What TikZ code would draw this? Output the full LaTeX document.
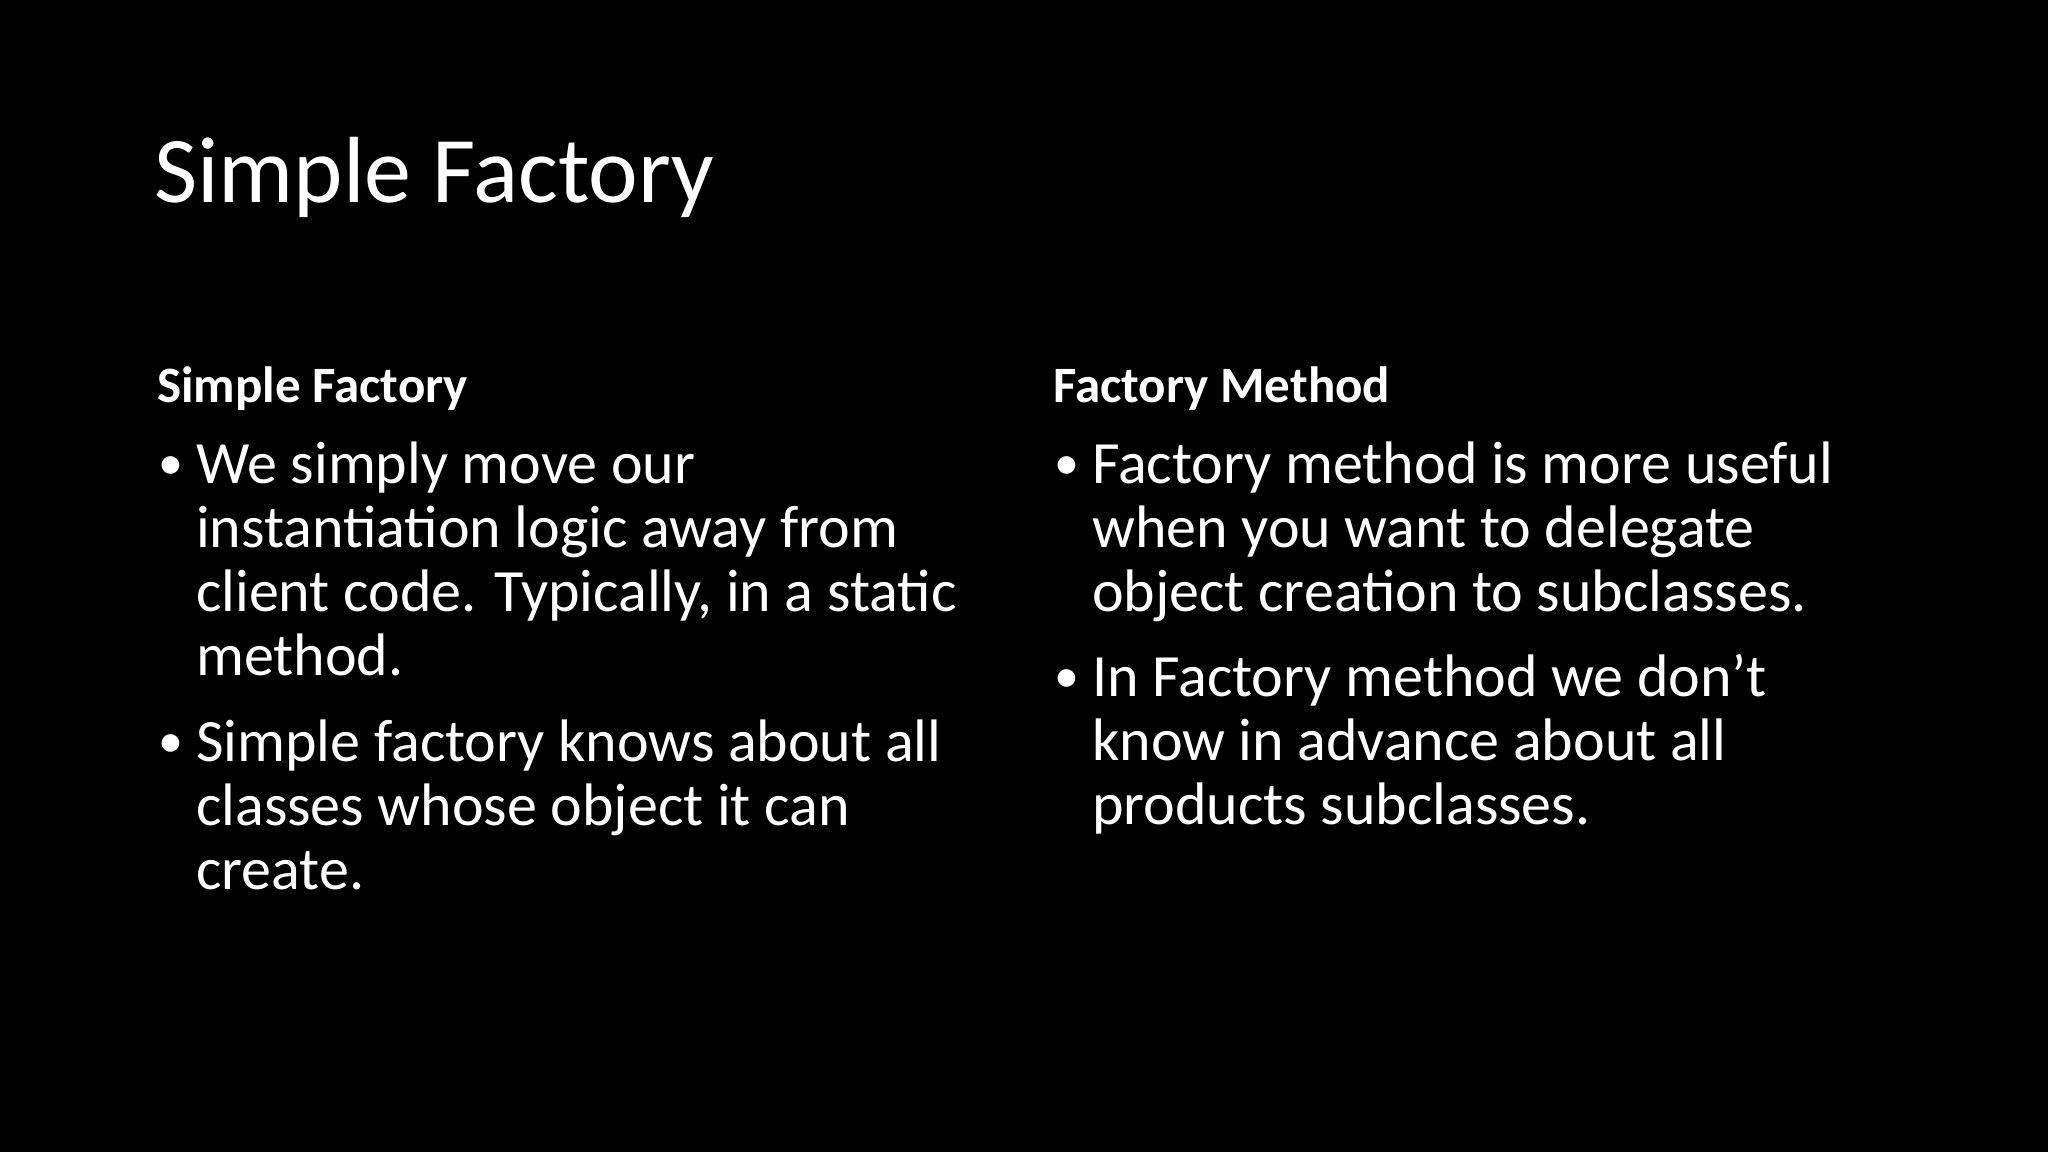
\documentclass[tikz,border=0pt]{standalone}
\usepackage{fontspec}
\setmainfont{Carlito}
\begin{document}
\begin{tikzpicture}[x=1pt,y=-1pt,
  txt/.style={anchor=base west,inner sep=0pt,text=white,font=\fontsize{60}{64}\selectfont},
  head/.style={anchor=base west,inner sep=0pt,text=white,font=\fontsize{51}{60}\selectfont\bfseries},
  bul/.style={anchor=base west,inner sep=0pt,text=white,font=\fontsize{50}{60}\selectfont}]
\fill[black] (0,0) rectangle (2048,1152);
\useasboundingbox (0,0) rectangle (2048,1152);
\node[anchor=base west,inner sep=0pt,text=white,font=\fontsize{94}{100}\selectfont] (title) at (154,202) {Simple Factory};
\node[head] (h1) at (157,402) {Simple Factory};
\node[head] (h2) at (1053,402) {Factory Method};
\node[bul] (b1) at (158,479) {•};
\node[txt] (l1) at (196,483) {We simply move our};
\node[txt] (l2) at (196,547) {instantiation logic away from};
\node[txt] (l3) at (196,611) {client code. Typically, in a static};
\node[txt] (l4) at (196,675) {method.};
\node[bul] (b2) at (158,757) {•};
\node[txt] (l5) at (196,761) {Simple factory knows about all};
\node[txt] (l6) at (196,825) {classes whose object it can};
\node[txt] (l7) at (196,889) {create.};
\node[bul] (b3) at (1054,479) {•};
\node[txt] (r1) at (1092,483) {Factory method is more useful};
\node[txt] (r2) at (1092,547) {when you want to delegate};
\node[txt] (r3) at (1092,611) {object creation to subclasses.};
\node[bul] (b4) at (1054,692) {•};
\node[txt] (r4) at (1092,696) {In Factory method we don’t};
\node[txt] (r5) at (1092,760) {know in advance about all};
\node[txt] (r6) at (1092,824) {products subclasses.};
\end{tikzpicture}
\end{document}
